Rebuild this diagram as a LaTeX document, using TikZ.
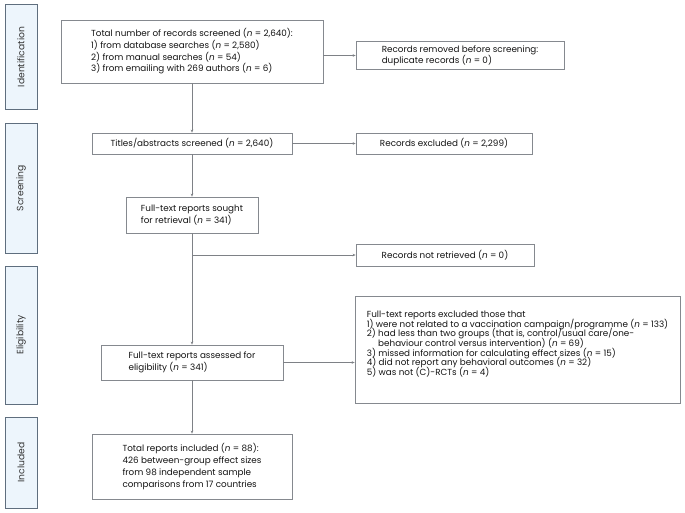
\documentclass[tikz,border=0pt]{standalone}
\usepackage{fontspec}
\setmainfont{Poppins}
\usetikzlibrary{arrows.meta}
\definecolor{boxline}{HTML}{85898F}
\definecolor{conn}{HTML}{7E8186}
\definecolor{sideline}{HTML}{5F6E7E}
\definecolor{sidefill}{HTML}{EDF5FC}
\newcommand{\tightlines}{\lineskiplimit=-8pt\relax\lineskip=0pt\relax}
\tikzset{
  x=1pt,y=-1pt,
  box/.style={draw=boxline, line width=0.8pt, fill=white, inner sep=0pt, align=left, text=black!92, font=\fontsize{8.8}{11.7}\selectfont},
  sidebox/.style={draw=sideline, line width=0.9pt, fill=sidefill, inner sep=0pt, minimum width=32pt},
  sidelabel/.style={rotate=90, font=\fontsize{9.2}{10}\selectfont, text=black!80},
  flow/.style={draw=conn, line width=0.8pt, -{Stealth[length=3pt,width=2.6pt]}},
  plain/.style={draw=conn, line width=0.8pt},
}
\newcommand{\nn}{\textit{n}}
\begin{document}
\begin{tikzpicture}
\useasboundingbox (0,0) rectangle (685,513);
% side boxes
\node[sidebox, minimum height=105pt] (sid) at (21,57) {};
\node[sidelabel] (sidt) at (sid.center) {Identification};
\node[sidebox, minimum height=130pt] (sscr) at (21,188) {};
\node[sidelabel] (sscrt) at (sscr.center) {Screening};
\node[sidebox, minimum height=138pt] (selg) at (21,335) {};
\node[sidelabel] (selgt) at (selg.center) {Eligibility};
\node[sidebox, minimum height=91pt] (sinc) at (21,462.5) {};
\node[sidelabel] (sinct) at (sinc.center) {Included};
% main boxes
\node[box, minimum width=262pt, minimum height=63pt] (total) at (192,51.5)
 {Total number of records screened (\nn{} = 2,640):\\
  1) from database searches (\nn{} = 2,580)\\
  2) from manual searches (\nn{} = 54)\\
  3) from emailing with 269 authors (\nn{} = 6)};
\node[box, minimum width=208pt, minimum height=28pt, font=\fontsize{8.8}{11}\selectfont] (dup) at (460,55.5)
 {Records removed before screening:\\ duplicate records (\nn{} = 0)};
\node[box, minimum width=200pt, minimum height=21pt] (titles) at (192,143.5)
 {Titles/abstracts screened (\nn{} = 2,640)};
\node[box, minimum width=176pt, minimum height=21pt] (excl) at (444,143.5)
 {Records excluded (\nn{} = 2,299)};
\node[box, minimum width=132pt, minimum height=36pt] (sought) at (192,215)
 {Full-text reports sought\\ for retrieval (\nn{} = 341)};
\node[box, minimum width=178pt, minimum height=22pt] (notret) at (445,255)
 {Records not retrieved (\nn{} = 0)};
\node[box, minimum width=182pt, minimum height=35pt] (assess) at (192,362.5)
 {Full-text reports assessed for\\ eligibility (\nn{} = 341)};
\node[box, minimum width=325pt, minimum height=107pt, font=\fontsize{8.8}{9.6}\selectfont\tightlines] (ftexcl) at (517.5,349.5)
 {Full-text reports excluded those that\\
  1) were not related to a vaccination campaign/programme (\nn{} = 133)\\
  2) had less than two groups (that is, control/usual care/one-\\
  \hphantom{2) }behaviour control versus intervention) (\nn{} = 69)\\
  3) missed information for calculating effect sizes (\nn{} = 15)\\
  4) did not report any behavioral outcomes (\nn{} = 32)\\
  5) was not (C)-RCTs (\nn{} = 4)\\[3pt]};
\node[box, minimum width=200pt, minimum height=65pt] (incl) at (192,466.5)
 {Total reports included (\nn{} = 88):\\
  426 between-group effect sizes\\
  from 98 independent sample\\
  comparisons from 17 countries};
% connectors
\coordinate (branch) at (192,255);
\draw[flow] (total) -- (titles);
\draw[flow] (titles) -- (sought);
\draw[flow] (sought) -- (assess);
\draw[flow] (assess) -- (incl);
\draw[flow] (total.east |- dup.west) -- (dup.west);
\draw[flow] (titles) -- (excl);
\draw[flow] (branch) -- (notret.west);
\draw[flow] (assess.east) -- (ftexcl.west |- assess.east);
\end{tikzpicture}
\end{document}
